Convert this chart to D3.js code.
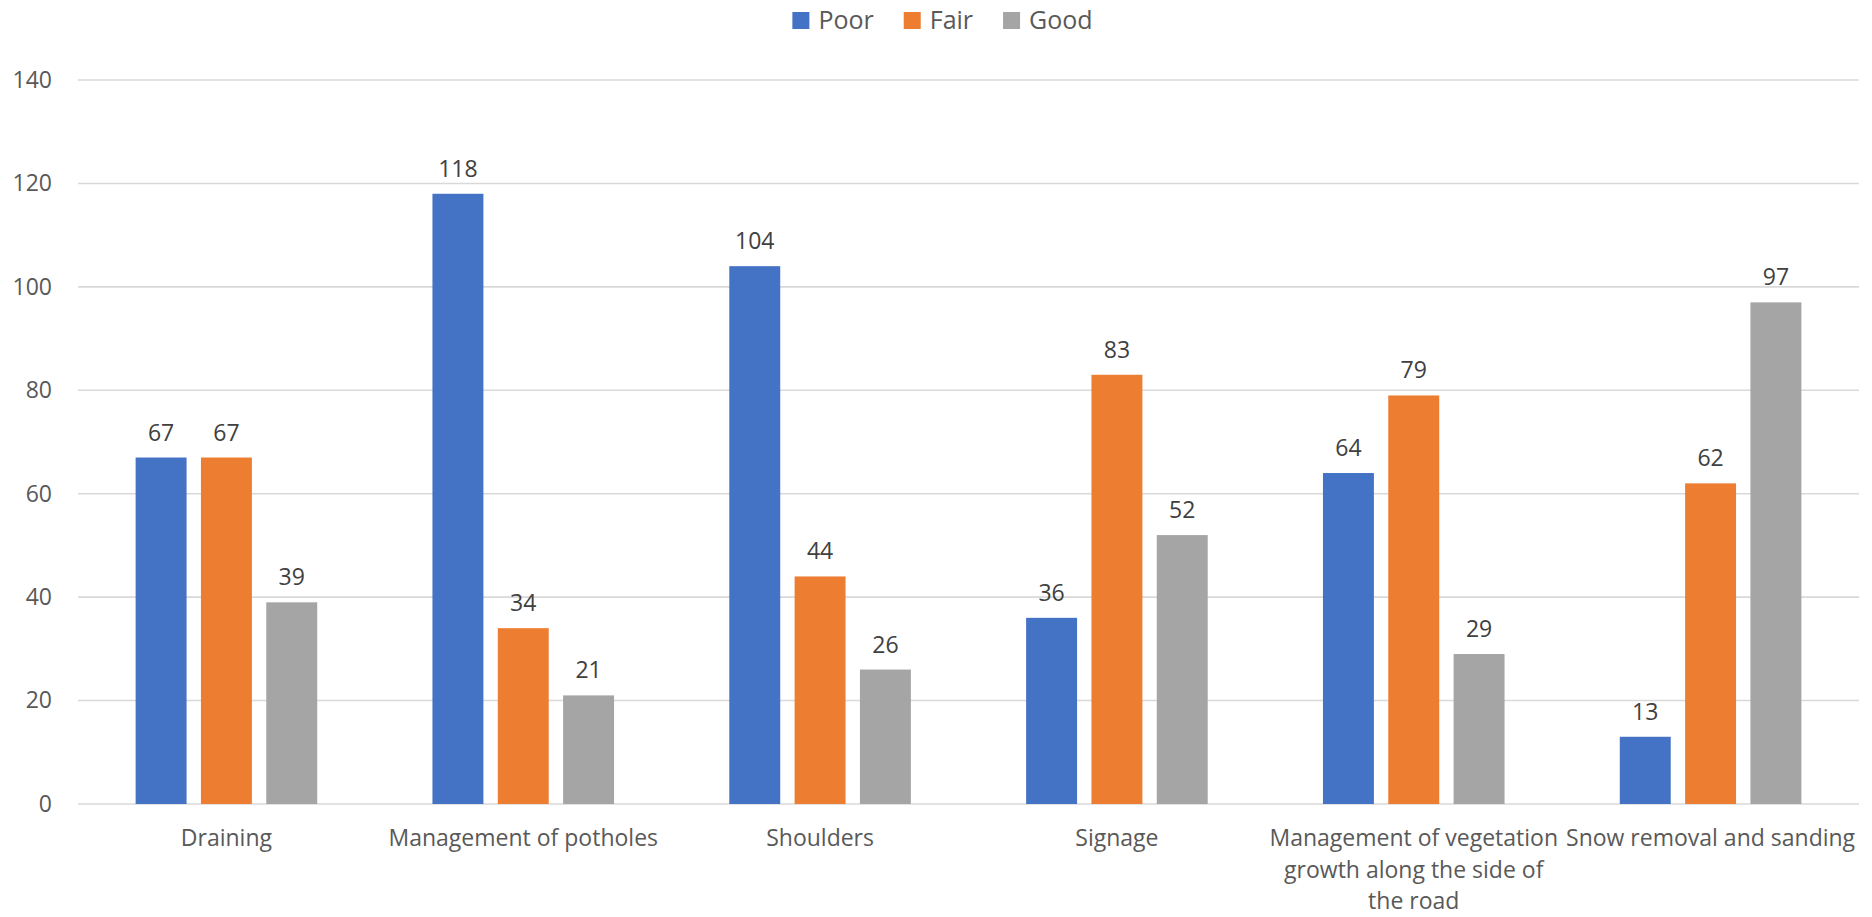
<!DOCTYPE html>
<html>
<head>
<meta charset="utf-8">
<script src="https://cdn.jsdelivr.net/npm/d3@7"></script>
<style>
  body { margin: 0; background: #fff; }
  text { font-family: "Open Sans", "Noto Sans", sans-serif; }
</style>
</head>
<body>
<div id="chart"></div>
<script>
const categories = [
  "Draining",
  "Management of potholes",
  "Shoulders",
  "Signage",
  "Management of vegetation growth along the side of the road",
  "Snow removal and sanding",
];
const seriesNames = ["Poor", "Fair", "Good"];
const poor = [67, 118, 104, 36, 64, 13];
const fair = [67, 34, 44, 83, 79, 62];
const good = [39, 21, 26, 52, 29, 97];
const yTicks = [0, 20, 40, 60, 80, 100, 120, 140];
const colors = ["#4472C4", "#ED7D31", "#A5A5A5"];

const W = 1872, H = 917;
const margin = { top: 80, right: 13, bottom: 113, left: 78 };

const seriesValues = [poor, fair, good];
const rows = categories.map((c, i) => ({
  category: c,
  values: seriesNames.map((s, j) => ({ series: s, value: seriesValues[j][i], idx: j })),
}));

const svg = d3.select("#chart").append("svg")
  .attr("width", W)
  .attr("height", H);

const x = d3.scaleBand()
  .domain(categories)
  .range([margin.left, W - margin.right])
  .padding(0);

const xSub = d3.scaleBand()
  .domain(seriesNames)
  .range([0, x.bandwidth()])
  .paddingInner(0.22)
  .paddingOuter(0.882);

const y = d3.scaleLinear()
  .domain([0, 140])
  .range([H - margin.bottom, margin.top]);

// gridlines
svg.append("g")
  .selectAll("line")
  .data(yTicks)
  .enter()
  .append("line")
  .attr("x1", margin.left)
  .attr("x2", W - margin.right)
  .attr("y1", (d) => y(d))
  .attr("y2", (d) => y(d))
  .attr("stroke", "#d9d9d9")
  .attr("stroke-width", 1.6);

// y tick labels
const yAxis = d3.axisLeft(y).tickValues(yTicks).tickSize(0).tickPadding(26);
svg.append("g")
  .attr("transform", `translate(${margin.left},0)`)
  .call(yAxis)
  .call((g) => g.select(".domain").remove())
  .selectAll("text")
  .attr("font-size", 23)
  .attr("font-family", "Open Sans")
  .attr("fill", "#595959");

// bars
const groups = svg.append("g")
  .selectAll("g")
  .data(rows)
  .enter()
  .append("g")
  .attr("transform", (d) => `translate(${x(d.category)},0)`);

groups.selectAll("rect")
  .data((d) => d.values)
  .enter()
  .append("rect")
  .attr("x", (d) => xSub(d.series))
  .attr("y", (d) => y(d.value))
  .attr("width", xSub.bandwidth())
  .attr("height", (d) => y(0) - y(d.value))
  .attr("fill", (d) => colors[d.idx]);

// data labels
groups.selectAll("text")
  .data((d) => d.values)
  .enter()
  .append("text")
  .attr("x", (d) => xSub(d.series) + xSub.bandwidth() / 2)
  .attr("y", (d) => y(d.value) - 17)
  .attr("text-anchor", "middle")
  .attr("font-size", 23)
  .attr("fill", "#404040")
  .text((d) => d.value);

// category labels, wrapped to band width
const wrapWidth = x.bandwidth() - 2;
const catG = svg.append("g");
categories.forEach((c) => {
  const cx = x(c) + x.bandwidth() / 2;
  const t = catG.append("text")
    .attr("x", cx)
    .attr("y", H - margin.bottom + 42)
    .attr("text-anchor", "middle")
    .attr("font-size", 23)
    .attr("fill", "#595959");
  const words = c.split(" ");
  let line = [];
  let tspan = t.append("tspan").attr("x", cx).attr("dy", 0);
  words.forEach((w) => {
    line.push(w);
    tspan.text(line.join(" "));
    if (tspan.node().getComputedTextLength() > wrapWidth && line.length > 1) {
      line.pop();
      tspan.text(line.join(" "));
      line = [w];
      tspan = t.append("tspan")
        .attr("x", cx)
        .attr("dy", 31.5)
        .text(w);
    }
  });
});

// legend
const legend = svg.append("g");
let lx = 0;
seriesNames.forEach((s, i) => {
  const g = legend.append("g").attr("transform", `translate(${lx},0)`);
  g.append("rect")
    .attr("x", 0)
    .attr("y", 12)
    .attr("width", 17)
    .attr("height", 17)
    .attr("fill", colors[i]);
  const t = g.append("text")
    .attr("x", 26)
    .attr("y", 29)
    .attr("font-size", 25)
    .attr("fill", "#595959")
    .text(s);
  lx += 26 + t.node().getComputedTextLength() + 30;
});
const legendWidth = lx - 30;
legend.attr("transform", `translate(${(794 + 1091) / 2 - legendWidth / 2},0)`);
</script>
</body>
</html>
